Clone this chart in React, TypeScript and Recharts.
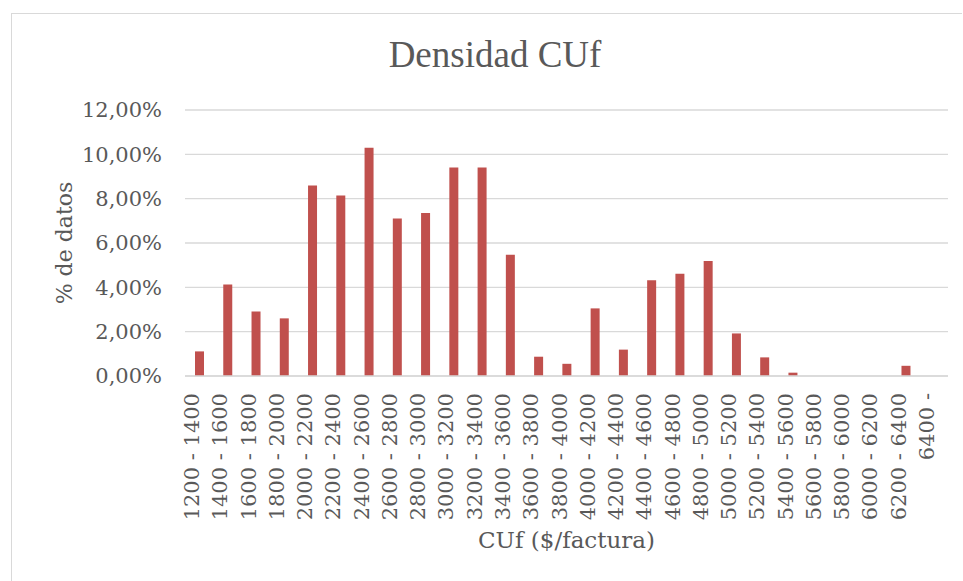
import { BarChart, Bar, XAxis, YAxis, CartesianGrid, Label } from 'recharts';

const categories = [
  '1200 - 1400', '1400 - 1600', '1600 - 1800', '1800 - 2000', '2000 - 2200',
  '2200 - 2400', '2400 - 2600', '2600 - 2800', '2800 - 3000', '3000 - 3200',
  '3200 - 3400', '3400 - 3600', '3600 - 3800', '3800 - 4000', '4000 - 4200',
  '4200 - 4400', '4400 - 4600', '4600 - 4800', '4800 - 5000', '5000 - 5200',
  '5200 - 5400', '5400 - 5600', '5600 - 5800', '5800 - 6000', '6000 - 6200',
  '6200 - 6400', '6400 -',
];

// % de datos per interval
const densidad = [
  1.11, 4.13, 2.91, 2.6, 8.59, 8.14, 10.3, 7.11, 7.35, 9.41,
  9.41, 5.47, 0.87, 0.55, 3.05, 1.19, 4.32, 4.61, 5.19, 1.92,
  0.84, 0.15, 0, 0, 0, 0.46, 0,
];

const yTicks = [0, 2, 4, 6, 8, 10, 12];

const data = categories.map((name, i) => ({ name, value: densidad[i] }));

const textColor = '#595959';
const serif = '"DejaVu Serif", serif';

const fmtPct = (v: number) => v.toFixed(2).replace('.', ',') + '%';

const XTick = ({ x, y, payload }: any) => (
  <text
    x={x}
    y={y}
    transform={`rotate(-90, ${x}, ${y})`}
    textAnchor="end"
    fill={textColor}
    fontSize={21}
    fontFamily={serif}
  >
    {payload.value}
  </text>
);

export default function App() {
  const W = 951;
  const H = 568;
  return (
    <div
      style={{
        position: 'absolute',
        left: 11,
        top: 13,
        width: W,
        height: H,
        borderTop: '1px solid #d9d9d9',
        borderLeft: '1px solid #d9d9d9',
        boxSizing: 'border-box',
        background: '#fff',
      }}
    >
      <svg
        width={W}
        height={80}
        style={{ position: 'absolute', left: -1, top: -1, pointerEvents: 'none' }}
      >
        <text
          x={484}
          y={54}
          textAnchor="middle"
          fill={textColor}
          fontSize={37}
          fontFamily='"Liberation Serif", serif'
        >
          Densidad CUf
        </text>
      </svg>
      <div style={{ position: 'absolute', left: -1, top: -1 }}>
        <BarChart
          width={W}
          height={H}
          data={data}
          margin={{ top: 97, right: 14, left: 0, bottom: 0 }}
        >
          <CartesianGrid vertical={false} stroke="#d9d9d9" strokeWidth={1.3} />
          <XAxis
            dataKey="name"
            interval={0}
            height={205}
            tickSize={0}
            tickMargin={17}
            tickLine={false}
            axisLine={{ stroke: '#d9d9d9', strokeWidth: 1.3 }}
            tick={<XTick />}
          >
            <Label
              content={({ viewBox }: any) => (
                <text
                  x={viewBox.x + viewBox.width / 2}
                  y={535}
                  textAnchor="middle"
                  fill={textColor}
                  fontSize={23}
                  fontFamily={serif}
                >
                  CUf ($/factura)
                </text>
              )}
            />
          </XAxis>
          <YAxis
            width={174}
            domain={[0, 12]}
            ticks={yTicks}
            interval={0}
            tickFormatter={fmtPct}
            tickSize={0}
            tickMargin={23}
            tickLine={false}
            axisLine={false}
            tick={{ fill: textColor, fontSize: 21, fontFamily: serif }}
          >
            <Label
              content={({ viewBox }: any) => {
                const cy = viewBox.y + viewBox.height / 2;
                return (
                  <text
                    x={61}
                    y={cy}
                    transform={`rotate(-90, 61, ${cy})`}
                    textAnchor="middle"
                    fill={textColor}
                    fontSize={22}
                    fontFamily={serif}
                  >
                    % de datos
                  </text>
                );
              }}
            />
          </YAxis>
          <Bar dataKey="value" fill="#C0504D" barSize={9} isAnimationActive={false} />
        </BarChart>
      </div>
    </div>
  );
}
